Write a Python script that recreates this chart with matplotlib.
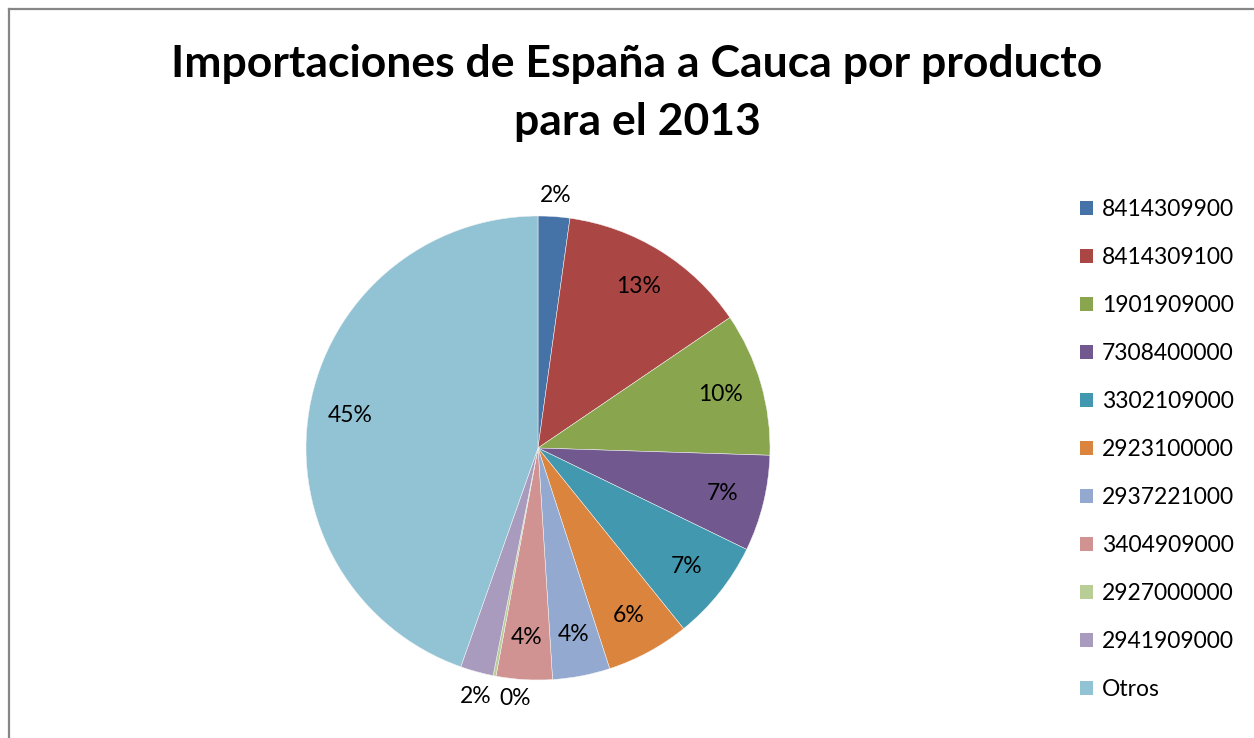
import numpy as np
import matplotlib.pyplot as plt
from matplotlib.patches import Patch
from matplotlib.lines import Line2D

plt.rcParams['font.family'] = ['Lato', 'DejaVu Sans']

productos = ["8414309900", "8414309100", "1901909000", "7308400000", "3302109000",
             "2923100000", "2937221000", "3404909000", "2927000000", "2941909000", "Otros"]
porcentajes = [2.2, 13.3, 10.0, 6.7, 7.0, 5.8, 4.0, 3.9, 0.2, 2.3, 44.6]
colores = ["#4572A7", "#AA4643", "#89A54E", "#71588F", "#4198AF", "#DB843D",
           "#93A9CF", "#D19392", "#B9CD96", "#A99BBD", "#92C3D4"]

W, H = 1254, 738
fig = plt.figure(figsize=(W / 100, H / 100), dpi=100)

# chart frame: only the left and top edges fall inside the image
fig.add_artist(Line2D([9 / W, 9 / W], [0, 1 - 9 / H], color="#868686", lw=1.6,
                      transform=fig.transFigure))
fig.add_artist(Line2D([9 / W, 1], [1 - 9 / H, 1 - 9 / H], color="#868686", lw=1.6,
                      transform=fig.transFigure))

cx, cy, r = 538, 448, 232
ax = fig.add_axes([(cx - r) / W, (H - cy - r) / H, 2 * r / W, 2 * r / H])
wedges, _ = ax.pie(porcentajes, colors=colores, startangle=90, counterclock=False,
                   radius=1.0, wedgeprops=dict(edgecolor="#f4f4f4", linewidth=0.35))
ax.set_xlim(-1, 1)
ax.set_ylim(-1, 1)
ax.set_aspect("equal")
ax.axis("off")

acum = 0
for i, p in enumerate(porcentajes):
    mid = 90 - (acum + p / 2) * 3.6
    acum += p
    texto = f"{round(p):.0f}%"
    d = 0.82 if p >= 3.5 else 1.09
    x, y = d * np.cos(np.radians(mid)), d * np.sin(np.radians(mid))
    if i == 8:
        x, y = -0.10, -1.08
    elif i == 9:
        x, y = -0.27, -1.07
    ax.text(x, y, texto, ha="center", va="center", fontsize=16.5, color="black")

fig.text(637 / W, 1 - 93 / H, "Importaciones de España a Cauca por producto\npara el 2013",
         ha="center", va="center", fontsize=32, fontweight="bold", linespacing=1.55)

handles = [Patch(facecolor=c, edgecolor="none") for c in colores]
fig.legend(handles, productos, loc="upper left", bbox_to_anchor=(1080 / W, 1 - 199 / H),
           frameon=False, fontsize=16.5, handlelength=0.55, handleheight=0.55,
           handletextpad=0.4, labelspacing=1.18, borderpad=0, borderaxespad=0)

fig.savefig("out.png", dpi=100)
